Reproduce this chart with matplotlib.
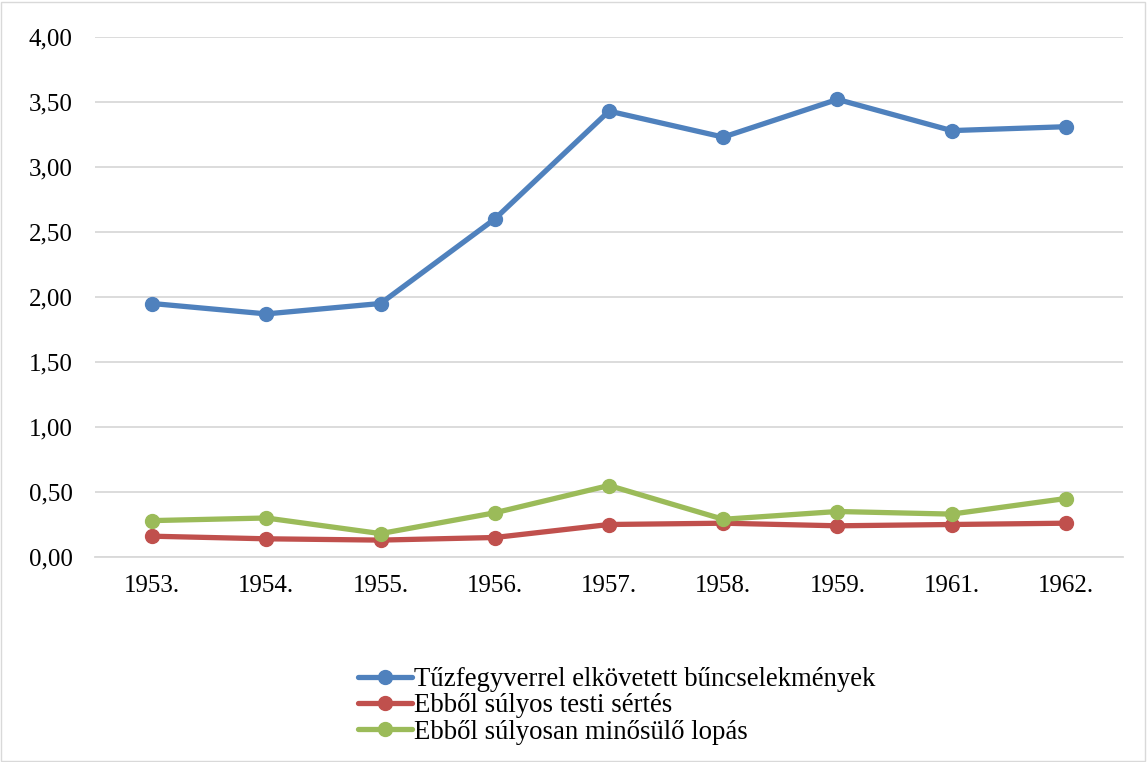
import matplotlib
matplotlib.use("Agg")
import matplotlib.pyplot as plt
from matplotlib.ticker import FuncFormatter, MultipleLocator
from matplotlib.patches import Rectangle

years = ["1953.", "1954.", "1955.", "1956.", "1957.", "1958.", "1959.", "1961.", "1962."]
firearm = [1.95, 1.87, 1.95, 2.60, 3.43, 3.23, 3.52, 3.28, 3.31]
assault = [0.16, 0.14, 0.13, 0.15, 0.25, 0.26, 0.24, 0.25, 0.26]
theft = [0.28, 0.30, 0.18, 0.34, 0.55, 0.29, 0.35, 0.33, 0.45]
labels = ["Tűzfegyverrel elkövetett bűncselekmények",
          "Ebből súlyos testi sértés",
          "Ebből súlyosan minősülő lopás"]
colors = ["#4F81BD", "#C0504D", "#9BBB59"]

plt.rcParams['font.family'] = ['Liberation Serif', 'DejaVu Serif']

fig = plt.figure(figsize=(11.47, 7.62), dpi=100)
ax = fig.add_axes([95/1147, 1-557/762, (1123-95)/1147, (557-37)/762])

x = list(range(len(years)))
for series, lab, col in zip([firearm, assault, theft], labels, colors):
    ax.plot(x, series, color=col, lw=3.8, marker='o', ms=10, label=lab,
            solid_capstyle='round', zorder=3)

ax.set_xlim(-0.5, len(years) - 0.5)
ax.set_ylim(0, 4)
ax.yaxis.set_major_locator(MultipleLocator(0.5))
ax.yaxis.set_major_formatter(FuncFormatter(lambda v, p: f"{v:.2f}".replace(".", ",")))
ax.set_xticks(x)
ax.set_xticklabels(years)
ax.grid(axis='y', color='#D9D9D9', lw=1.3, zorder=0)
for s in ['top', 'right', 'left']:
    ax.spines[s].set_visible(False)
ax.spines['bottom'].set_color('#D9D9D9')
ax.spines['bottom'].set_linewidth(1.3)
ax.tick_params(axis='both', length=0, labelsize=18, colors='black')
ax.tick_params(axis='y', pad=16)
ax.tick_params(axis='x', pad=13)

fig.legend(loc='center', bbox_to_anchor=(617/1147, 1-706/762), frameon=False,
           fontsize=19.3, handlelength=2.0, handletextpad=0.1, labelspacing=0.04,
           borderpad=0)

fig.patches.append(Rectangle((0.001, 0.001), 0.997, 0.997, transform=fig.transFigure,
                             fill=False, edgecolor='#D9D9D9', lw=1))

fig.savefig("out.png", dpi=100)
